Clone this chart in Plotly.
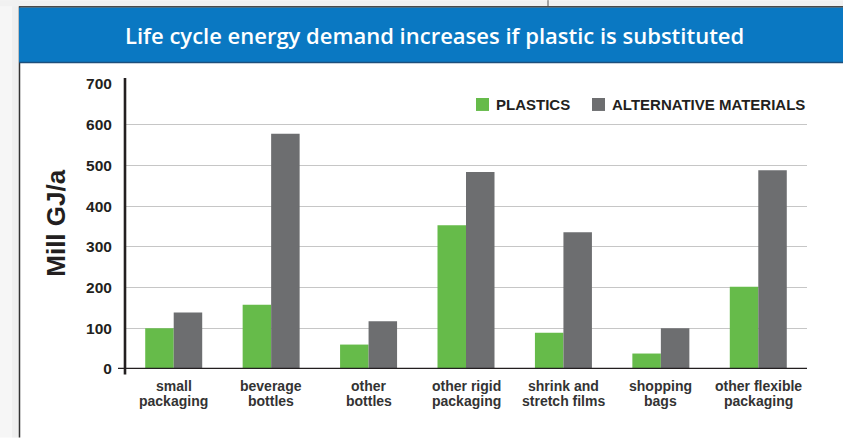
import plotly.graph_objects as go

# ---- data -------------------------------------------------------------
categories = [
    "small<br>packaging",
    "beverage<br>bottles",
    "other<br>bottles",
    "other rigid<br>packaging",
    "shrink and<br>stretch films",
    "shopping<br>bags",
    "other flexible<br>packaging",
]
plastics = [100, 158, 60, 353, 89, 38, 202]
alternative_materials = [139, 578, 117, 484, 336, 100, 488]

series_names = ["PLASTICS", "ALTERNATIVE MATERIALS"]
y_ticks = [0, 100, 200, 300, 400, 500, 600, 700]
y_title = "Mill GJ/a"
title = "Life cycle energy demand increases if plastic is substituted"

# ---- styling ----------------------------------------------------------
GREEN = "#66bb4a"
GRAY = "#6d6e70"
BLUE = "#0a78c2"
DARK = "#231f20"
LABEL = "#333333"
FONT = "Liberation Sans, Arial, sans-serif"

W, H = 843, 438
L, R, T, B = 125, 36, 84, 68.5
PW, PH = W - L - R, H - T - B


def px_x(px):
    return (px - L) / PW


def px_y(py):
    return (H - B - py) / PH


fig = go.Figure()
fig.add_bar(x=list(range(len(categories))), y=plastics, name=series_names[0],
            marker=dict(color=GREEN, line=dict(width=0)), showlegend=False)
fig.add_bar(x=list(range(len(categories))), y=alternative_materials, name=series_names[1],
            marker=dict(color=GRAY, line=dict(width=0)), showlegend=False)

shapes = [
    # page shading on the left and top
    dict(type="rect", xref="paper", yref="paper", x0=px_x(0), x1=px_x(19), y0=px_y(0), y1=px_y(H),
         fillcolor="#f6f6f6", line=dict(width=0), layer="below"),
    dict(type="rect", xref="paper", yref="paper", x0=px_x(12), x1=px_x(19), y0=px_y(0), y1=px_y(H),
         fillcolor="#efefef", line=dict(width=0), layer="below"),
    dict(type="rect", xref="paper", yref="paper", x0=px_x(0), x1=px_x(W), y0=px_y(0), y1=px_y(6),
         fillcolor="#f1f1f1", line=dict(width=0), layer="below"),
    dict(type="line", xref="paper", yref="paper", x0=px_x(548), x1=px_x(548), y0=px_y(0), y1=px_y(6),
         line=dict(color="#555555", width=1)),
    # left frame line
    dict(type="line", xref="paper", yref="paper", x0=px_x(19.5), x1=px_x(19.5), y0=px_y(6), y1=px_y(H),
         line=dict(color="#333333", width=1.5)),
    # title band
    dict(type="rect", xref="paper", yref="paper", x0=px_x(19), x1=px_x(W + 2), y0=px_y(7), y1=px_y(62.5),
         fillcolor=BLUE, line=dict(width=0)),
    dict(type="line", xref="paper", yref="paper", x0=px_x(19), x1=px_x(W + 2), y0=px_y(6.5), y1=px_y(6.5),
         line=dict(color="#4a4a4a", width=1.5)),
    dict(type="line", xref="paper", yref="paper", x0=px_x(19), x1=px_x(W + 2), y0=px_y(62.5), y1=px_y(62.5),
         line=dict(color="#1d4f7c", width=1.5)),
    # axis lines
    dict(type="line", xref="paper", yref="paper", x0=0, x1=0, y0=px_y(78), y1=px_y(375),
         line=dict(color=DARK, width=2.6)),
    dict(type="line", xref="paper", yref="y", x0=px_x(118), x1=1, y0=0, y1=0,
         line=dict(color=DARK, width=2.6)),
]

annotations = [
    dict(text=title, xref="paper", yref="paper", x=px_x(434.5), y=px_y(35), xanchor="center",
         yanchor="middle", showarrow=False,
         font=dict(family="Open Sans, sans-serif", size=22, color="white", weight=600)),
    dict(text=y_title, xref="paper", yref="paper", x=px_x(56), y=px_y(224), textangle=-90,
         xanchor="center", yanchor="middle", showarrow=False,
         font=dict(family=FONT, size=26, color=DARK, weight="bold")),
]

# two-line category labels under the axis
for i, cat in enumerate(categories):
    for j, line in enumerate(cat.split("<br>")):
        annotations.append(dict(text=line, xref="x", yref="paper", x=i, y=px_y(387 + 15 * j),
                                xanchor="center", yanchor="middle", showarrow=False,
                                font=dict(family=FONT, size=14, color=LABEL, weight="bold")))

# legend: colour squares with labels
legend_items = [(series_names[0], GREEN, 476), (series_names[1], GRAY, 592)]
for name, color, x0 in legend_items:
    shapes.append(dict(type="rect", xref="paper", yref="paper", x0=px_x(x0), x1=px_x(x0 + 13),
                       y0=px_y(98), y1=px_y(111), fillcolor=color, line=dict(width=0)))
    annotations.append(dict(text=name, xref="paper", yref="paper", x=px_x(x0 + 18), y=px_y(104.5),
                            xanchor="left", yanchor="middle", showarrow=False,
                            font=dict(family=FONT, size=15, color=DARK, weight="bold")))

fig.update_layout(
    width=W, height=H,
    margin=dict(l=L, r=R, t=T, b=B, pad=0),
    paper_bgcolor="white", plot_bgcolor="white",
    barmode="group", bargap=0.415, bargroupgap=0,
    shapes=shapes, annotations=annotations,
    xaxis=dict(range=[-0.5, len(categories) - 0.5], showticklabels=False, showgrid=False,
               zeroline=False, showline=False, ticks=""),
    yaxis=dict(range=[0, 700], tickvals=y_ticks, showgrid=True, gridcolor="#c6c6c6",
               gridwidth=1.2, zeroline=False, showline=False, ticks="outside", ticklen=9,
               tickcolor="rgba(0,0,0,0)",
               tickfont=dict(family=FONT, size=15.5, color=DARK, weight="bold")),
    font=dict(family=FONT),
)

fig.write_html("out.html")
